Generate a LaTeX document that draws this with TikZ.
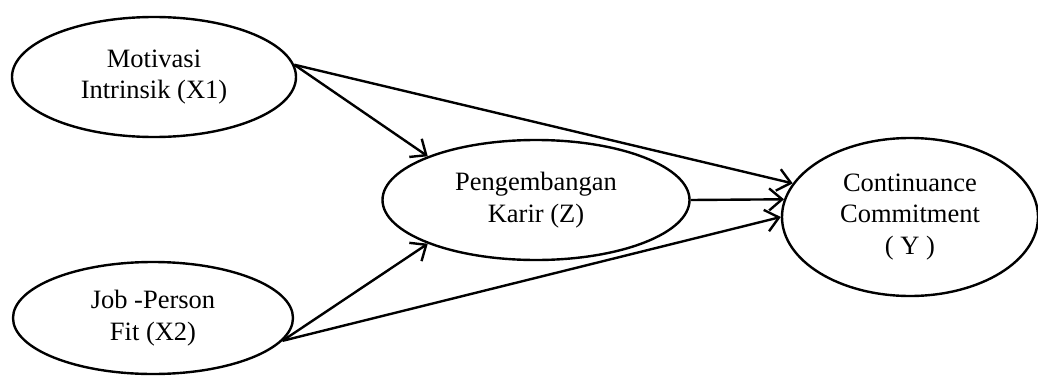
\documentclass[tikz,border=0pt]{standalone}
\usepackage{fontspec}
\setmainfont{Liberation Serif}
\usetikzlibrary{shapes.geometric,arrows.meta}
\newcommand{\lblfont}{\fontsize{26.5pt}{31.5pt}\selectfont}
\begin{document}
\begin{tikzpicture}[x=1pt,y=1pt,
  latent/.style={draw,ellipse,line width=2.4pt,inner sep=0pt,align=center,
    font=\lblfont},
  conn/.style={line width=2.4pt,-{Straight Barb[length=13pt,width=22pt,line width=2.4pt]}}]
\useasboundingbox (0,0) rectangle (1038,376);
\node[latent,minimum width=284pt,minimum height=120pt] (X1) at (154,299) {Motivasi\\Intrinsik (X1)};
\node[latent,minimum width=280pt,minimum height=112pt] (X2) at (153,58) {Job -Person\\Fit (X2)};
\node[latent,minimum width=307pt,minimum height=120pt] (Z) at (536,176) {Pengembangan\\Karir (Z)};
\node[latent,minimum width=256pt,minimum height=158pt] (Y) at (910,159) {Continuance\\Commitment\\( Y )};
\draw[conn] (X1.5) -- (Z.158);
\draw[conn] (X1.5) -- (Y.164);
\draw[conn] (Z.east) -- (Y.172);
\draw[conn] (X2.-10) -- (Z.202);
\draw[conn] (X2.-10) -- (Y.west);
\end{tikzpicture}
\end{document}
